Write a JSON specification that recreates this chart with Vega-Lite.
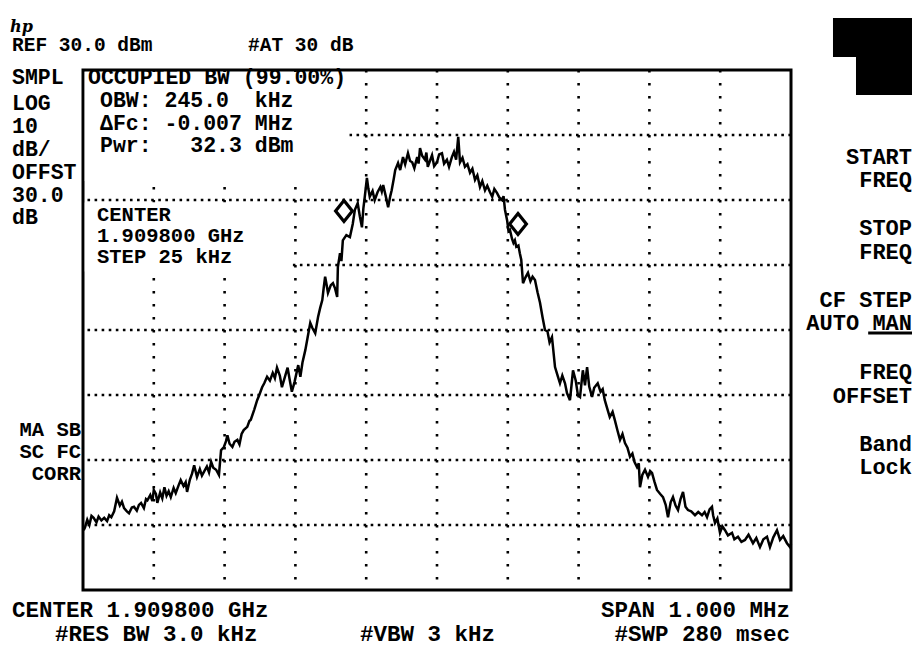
{
  "$schema": "https://vega.github.io/schema/vega-lite/v6.json",
  "width": 708,
  "height": 520,
  "autosize": {"type": "none"},
  "padding": {"left": 83, "top": 70, "right": 125, "bottom": 62},
  "background": "white",
  "config": {
    "view": {"stroke": "black", "strokeWidth": 3},
    "text": {"font": "Liberation Mono", "fontWeight": "bold", "fontSize": 21, "color": "black", "baseline": "middle"}
  },
  "datasets": {
    "vgrid": [{"x": -400}, {"x": -300}, {"x": -200}, {"x": -100}, {"x": 0}, {"x": 100}, {"x": 200}, {"x": 300}, {"x": 400}],
    "hgrid": [{"y": 20}, {"y": 10}, {"y": 0}, {"y": -10}, {"y": -20}, {"y": -30}, {"y": -40}],
    "masks": [
      {"x": -497.5, "x2": -124, "y": 29.7, "y2": 12.92},
      {"x": -497.5, "x2": -204, "y": 9.6, "y2": -1.0}
    ],
    "trace": [
      {"x": -499, "y": -40.8}, {"x": -497, "y": -40.3}, {"x": -494, "y": -39.2}, {"x": -491, "y": -40.0},
      {"x": -488, "y": -38.6}, {"x": -485, "y": -38.9}, {"x": -481, "y": -39.6}, {"x": -478, "y": -38.7},
      {"x": -474, "y": -39.3}, {"x": -470, "y": -38.9}, {"x": -466, "y": -39.4}, {"x": -463, "y": -38.5},
      {"x": -460, "y": -38.8}, {"x": -456, "y": -37.9}, {"x": -452, "y": -35.8}, {"x": -448, "y": -37.0},
      {"x": -445, "y": -36.4}, {"x": -442, "y": -37.4}, {"x": -438, "y": -37.9}, {"x": -435, "y": -38.2},
      {"x": -431, "y": -37.3}, {"x": -428, "y": -37.2}, {"x": -424, "y": -37.8}, {"x": -421, "y": -36.9},
      {"x": -418, "y": -36.6}, {"x": -414, "y": -37.4}, {"x": -411, "y": -36.0}, {"x": -409, "y": -36.2},
      {"x": -405, "y": -35.4}, {"x": -402, "y": -36.3}, {"x": -400, "y": -34.6}, {"x": -397, "y": -35.2},
      {"x": -395, "y": -36.6}, {"x": -391, "y": -35.0}, {"x": -388, "y": -35.9}, {"x": -385, "y": -34.2},
      {"x": -382, "y": -35.5}, {"x": -379, "y": -34.8}, {"x": -376, "y": -35.7}, {"x": -372, "y": -34.3},
      {"x": -369, "y": -35.1}, {"x": -365, "y": -33.9}, {"x": -362, "y": -33.1}, {"x": -358, "y": -34.0},
      {"x": -355, "y": -33.4}, {"x": -353, "y": -34.9}, {"x": -349, "y": -33.0}, {"x": -346, "y": -32.1},
      {"x": -343, "y": -30.8}, {"x": -339, "y": -32.6}, {"x": -335, "y": -31.4}, {"x": -332, "y": -32.4},
      {"x": -329, "y": -31.8}, {"x": -325, "y": -31.0}, {"x": -322, "y": -31.9}, {"x": -319, "y": -30.3},
      {"x": -316, "y": -31.2}, {"x": -312, "y": -31.5}, {"x": -308, "y": -32.3}, {"x": -305, "y": -28.5},
      {"x": -301, "y": -28.0}, {"x": -298, "y": -27.1}, {"x": -296, "y": -26.2}, {"x": -293, "y": -27.5},
      {"x": -289, "y": -28.0}, {"x": -286, "y": -27.2}, {"x": -282, "y": -26.9}, {"x": -279, "y": -27.6},
      {"x": -276, "y": -26.0}, {"x": -273, "y": -25.4}, {"x": -268, "y": -24.9}, {"x": -265, "y": -24.0},
      {"x": -263, "y": -23.8}, {"x": -258, "y": -22.2}, {"x": -254, "y": -20.8}, {"x": -251, "y": -20.0},
      {"x": -247, "y": -18.8}, {"x": -244, "y": -18.2}, {"x": -240, "y": -17.2}, {"x": -236, "y": -17.8},
      {"x": -232, "y": -16.6}, {"x": -229, "y": -17.4}, {"x": -226, "y": -15.8}, {"x": -222, "y": -17.0},
      {"x": -219, "y": -18.8}, {"x": -215, "y": -17.3}, {"x": -211, "y": -15.8}, {"x": -208, "y": -17.7},
      {"x": -205, "y": -19.5}, {"x": -201, "y": -17.9}, {"x": -196, "y": -15.4}, {"x": -193, "y": -17.2},
      {"x": -190, "y": -15.0}, {"x": -186, "y": -13.1}, {"x": -183, "y": -11.3}, {"x": -179, "y": -8.9},
      {"x": -176, "y": -9.7}, {"x": -172, "y": -10.5}, {"x": -168, "y": -8.0}, {"x": -165, "y": -6.6},
      {"x": -162, "y": -5.4}, {"x": -160, "y": -3.5}, {"x": -158, "y": -1.8}, {"x": -156, "y": -3.0},
      {"x": -154, "y": -4.3}, {"x": -150, "y": -3.1}, {"x": -147, "y": -2.8}, {"x": -144, "y": -3.6},
      {"x": -141, "y": -4.9}, {"x": -140, "y": -0.3}, {"x": -137, "y": 1.8}, {"x": -135, "y": 0.6},
      {"x": -133, "y": 3.8}, {"x": -128, "y": 4.6}, {"x": -123, "y": 4.3}, {"x": -119, "y": 6.3},
      {"x": -116, "y": 8.5}, {"x": -112, "y": 9.5}, {"x": -109, "y": 7.5}, {"x": -106, "y": 5.8},
      {"x": -104, "y": 8.7}, {"x": -102, "y": 10.5}, {"x": -99, "y": 13.4}, {"x": -97, "y": 11.8},
      {"x": -95, "y": 10.5}, {"x": -91, "y": 11.4}, {"x": -88, "y": 10.0}, {"x": -84, "y": 11.2},
      {"x": -80, "y": 12.0}, {"x": -78, "y": 11.3}, {"x": -76, "y": 12.3}, {"x": -72, "y": 10.4},
      {"x": -69, "y": 8.9}, {"x": -66, "y": 10.6}, {"x": -64, "y": 11.5}, {"x": -61, "y": 13.3},
      {"x": -59, "y": 14.6}, {"x": -55, "y": 15.7}, {"x": -52, "y": 14.6}, {"x": -48, "y": 16.6},
      {"x": -45, "y": 15.5}, {"x": -41, "y": 17.2}, {"x": -38, "y": 16.0}, {"x": -35, "y": 15.8},
      {"x": -32, "y": 14.9}, {"x": -28, "y": 16.6}, {"x": -26, "y": 15.6}, {"x": -24, "y": 18.0},
      {"x": -21, "y": 16.8}, {"x": -17, "y": 16.2}, {"x": -15, "y": 17.3}, {"x": -13, "y": 15.1},
      {"x": -10, "y": 16.0}, {"x": -7, "y": 16.9}, {"x": -4, "y": 15.2}, {"x": 0, "y": 15.8},
      {"x": 3, "y": 17.0}, {"x": 7, "y": 17.2}, {"x": 10, "y": 15.6}, {"x": 14, "y": 16.2},
      {"x": 17, "y": 15.1}, {"x": 21, "y": 16.6}, {"x": 24, "y": 17.4}, {"x": 27, "y": 16.2},
      {"x": 30, "y": 19.7}, {"x": 32.5, "y": 15.8}, {"x": 36, "y": 16.5}, {"x": 39.5, "y": 15.1},
      {"x": 43, "y": 15.5}, {"x": 46.6, "y": 14.2}, {"x": 50, "y": 14.8}, {"x": 53.7, "y": 13.1},
      {"x": 57, "y": 13.8}, {"x": 60.7, "y": 12.0}, {"x": 64, "y": 12.9}, {"x": 67.8, "y": 11.5},
      {"x": 71, "y": 12.2}, {"x": 74.9, "y": 11.2}, {"x": 78, "y": 10.5}, {"x": 81, "y": 11.7},
      {"x": 84.7, "y": 11.1}, {"x": 88, "y": 10.4}, {"x": 91.8, "y": 10.0}, {"x": 94, "y": 10.6},
      {"x": 96, "y": 8.5}, {"x": 99, "y": 6.9}, {"x": 101, "y": 5.2}, {"x": 103, "y": 5.4},
      {"x": 106, "y": 4.0}, {"x": 108, "y": 3.4}, {"x": 110, "y": 3.8}, {"x": 112, "y": 2.8},
      {"x": 115, "y": 3.0}, {"x": 117, "y": 1.8}, {"x": 119, "y": 0.8}, {"x": 121.5, "y": -2.8},
      {"x": 125, "y": -1.9}, {"x": 128.5, "y": -1.2}, {"x": 132, "y": -2.5}, {"x": 135, "y": -1.8},
      {"x": 138.4, "y": -2.3}, {"x": 142, "y": -4.2}, {"x": 145.5, "y": -5.8}, {"x": 149, "y": -8.0},
      {"x": 152.5, "y": -10.0}, {"x": 156, "y": -10.2}, {"x": 159, "y": -11.9}, {"x": 162.4, "y": -11.1},
      {"x": 166.7, "y": -15.7}, {"x": 170.9, "y": -17.2}, {"x": 173.7, "y": -18.2}, {"x": 177, "y": -17.0},
      {"x": 180.8, "y": -18.2}, {"x": 183.6, "y": -19.7}, {"x": 187.8, "y": -20.8}, {"x": 190, "y": -18.5},
      {"x": 192.1, "y": -16.2}, {"x": 196, "y": -17.8}, {"x": 199, "y": -20.0}, {"x": 202, "y": -20.3},
      {"x": 206, "y": -16.2}, {"x": 209, "y": -18.5}, {"x": 212, "y": -15.7}, {"x": 215, "y": -18.7},
      {"x": 219, "y": -20.3}, {"x": 222, "y": -18.9}, {"x": 227, "y": -18.2}, {"x": 231, "y": -19.5},
      {"x": 234, "y": -19.1}, {"x": 237, "y": -20.8}, {"x": 241, "y": -22.3}, {"x": 244, "y": -23.4},
      {"x": 248, "y": -22.6}, {"x": 251, "y": -23.8}, {"x": 255, "y": -25.5}, {"x": 258.5, "y": -26.9},
      {"x": 262, "y": -26.0}, {"x": 265.5, "y": -27.4}, {"x": 269, "y": -28.1}, {"x": 272.6, "y": -29.5},
      {"x": 276, "y": -29.0}, {"x": 279, "y": -30.3}, {"x": 282.5, "y": -31.1}, {"x": 285, "y": -30.5},
      {"x": 286.7, "y": -34.2}, {"x": 290, "y": -32.3}, {"x": 293.8, "y": -31.5}, {"x": 298, "y": -32.6},
      {"x": 301, "y": -31.7}, {"x": 303.7, "y": -32.0}, {"x": 307, "y": -33.3}, {"x": 310.7, "y": -34.6},
      {"x": 315, "y": -35.2}, {"x": 319.2, "y": -35.7}, {"x": 323, "y": -36.9}, {"x": 326.3, "y": -38.8},
      {"x": 330, "y": -36.5}, {"x": 333.3, "y": -35.7}, {"x": 337, "y": -37.0}, {"x": 340.4, "y": -37.7},
      {"x": 344, "y": -36.0}, {"x": 347.5, "y": -34.9}, {"x": 351, "y": -37.2}, {"x": 354.5, "y": -37.7},
      {"x": 359, "y": -37.9}, {"x": 364.4, "y": -38.5}, {"x": 369, "y": -38.0}, {"x": 374.3, "y": -38.5},
      {"x": 378, "y": -38.0}, {"x": 381.4, "y": -38.8}, {"x": 385, "y": -37.6}, {"x": 388.4, "y": -37.2},
      {"x": 390, "y": -38.5}, {"x": 392.7, "y": -39.7}, {"x": 396, "y": -39.0}, {"x": 399.7, "y": -41.2},
      {"x": 403, "y": -40.2}, {"x": 406.8, "y": -40.8}, {"x": 411, "y": -41.6}, {"x": 416.7, "y": -41.2},
      {"x": 420, "y": -42.2}, {"x": 425.1, "y": -41.8}, {"x": 430, "y": -42.6}, {"x": 435, "y": -42.3},
      {"x": 440, "y": -41.5}, {"x": 446.3, "y": -42.8}, {"x": 451, "y": -42.0}, {"x": 456.2, "y": -43.4},
      {"x": 461, "y": -42.2}, {"x": 466.1, "y": -41.8}, {"x": 470.3, "y": -43.4}, {"x": 475, "y": -41.9},
      {"x": 480.2, "y": -40.8}, {"x": 484.5, "y": -42.3}, {"x": 489, "y": -41.7}, {"x": 494.3, "y": -42.8},
      {"x": 498.6, "y": -43.4}, {"x": 500, "y": -42.9}
    ],
    "markers": [{"x": -131.4, "y": 8.3}, {"x": 114.4, "y": 6.3}],
    "topText": [
      {"t": "REF 30.0 dBm", "x": -600.3, "y": 33.85},
      {"t": "#AT 30 dB", "x": -266.9, "y": 33.85}
    ],
    "sideText": [
      {"t": "SMPL", "x": -600.3, "y": 28.77},
      {"t": "LOG", "x": -600.3, "y": 24.77},
      {"t": "10", "x": -600.3, "y": 21.23},
      {"t": "dB/", "x": -600.3, "y": 17.69},
      {"t": "OFFST", "x": -600.3, "y": 14.15},
      {"t": "30.0", "x": -600.3, "y": 10.62},
      {"t": "dB", "x": -600.3, "y": 7.23}
    ],
    "boxText": [
      {"t": "OCCUPIED BW (99.00%)", "x": -492.9, "y": 28.77},
      {"t": "OBW: 245.0\u00a0\u00a0kHz", "x": -476.0, "y": 25.23},
      {"t": "ΔFc: -0.007 MHz", "x": -476.0, "y": 21.69},
      {"t": "Pwr:\u00a0\u00a0\u00a032.3 dBm", "x": -476.0, "y": 18.31}
    ],
    "centerText": [
      {"t": "CENTER", "x": -480.2, "y": 7.69},
      {"t": "1.909800 GHz", "x": -480.2, "y": 4.46},
      {"t": "STEP 25 kHz", "x": -480.2, "y": 1.23}
    ],
    "bottomText": [
      {"t": "CENTER 1.909800 GHz", "x": -600.3, "y": -53.08},
      {"t": "#RES BW 3.0 kHz", "x": -539.5, "y": -56.77},
      {"t": "#VBW 3 kHz", "x": -108.8, "y": -56.77}
    ],
    "bottomRight": [
      {"t": "SPAN 1.000 MHz", "x": 498.6, "y": -53.08},
      {"t": "#SWP 280 msec", "x": 498.6, "y": -56.77}
    ],
    "maText": [
      {"t": "MA SB", "x": -502.8, "y": -25.38},
      {"t": "SC FC", "x": -502.8, "y": -28.77},
      {"t": "CORR", "x": -502.8, "y": -32.15}
    ],
    "rightText": [
      {"t": "START", "x": 670.9, "y": 16.62},
      {"t": "FREQ", "x": 670.9, "y": 13.08},
      {"t": "STOP", "x": 670.9, "y": 5.69},
      {"t": "FREQ", "x": 670.9, "y": 2.0},
      {"t": "CF STEP", "x": 670.9, "y": -5.38},
      {"t": "AUTO MAN", "x": 670.9, "y": -8.92},
      {"t": "FREQ", "x": 670.9, "y": -16.46},
      {"t": "OFFSET", "x": 670.9, "y": -20.15},
      {"t": "Band", "x": 670.9, "y": -27.54},
      {"t": "Lock", "x": 670.9, "y": -31.08}
    ],
    "blocks": [
      {"x": 559.3, "x2": 670.9, "y": 38.0, "y2": 32.0},
      {"x": 591.8, "x2": 670.9, "y": 32.0, "y2": 26.15}
    ],
    "underline": [{"x": 609.0, "x2": 670.9, "y": -10.46}],
    "logo": [{"t": "hp", "x": -603.1, "y": 36.6}]
  },
  "layer": [
    {
      "data": {"name": "vgrid"},
      "mark": {"type": "rule", "color": "black", "strokeWidth": 2.6, "strokeDash": [2.6, 10.4], "strokeCap": "butt"},
      "encoding": {
        "x": {"field": "x", "type": "quantitative", "scale": {"domain": [-500, 500], "nice": false, "zero": false}, "axis": null}
      }
    },
    {
      "data": {"name": "hgrid"},
      "mark": {"type": "rule", "color": "black", "strokeWidth": 2.6, "strokeDash": [2.6, 4.48], "strokeCap": "butt"},
      "encoding": {
        "y": {"field": "y", "type": "quantitative", "scale": {"domain": [-50, 30], "nice": false, "zero": false}, "axis": null}
      }
    },
    {
      "data": {"name": "masks"},
      "mark": {"type": "rect", "fill": "white", "strokeWidth": 0},
      "encoding": {
        "x": {"field": "x", "type": "quantitative", "scale": {"domain": [-500, 500], "nice": false, "zero": false}, "axis": null},
        "x2": {"field": "x2"},
        "y": {"field": "y", "type": "quantitative", "scale": {"domain": [-50, 30], "nice": false, "zero": false}, "axis": null},
        "y2": {"field": "y2"}
      }
    },
    {
      "data": {"name": "trace"},
      "mark": {"type": "line", "color": "black", "strokeWidth": 2.5, "strokeJoin": "miter"},
      "encoding": {
        "x": {"field": "x", "type": "quantitative", "scale": {"domain": [-500, 500], "nice": false, "zero": false}, "axis": null},
        "y": {"field": "y", "type": "quantitative", "scale": {"domain": [-50, 30], "nice": false, "zero": false}, "axis": null}
      }
    },
    {
      "data": {"name": "markers"},
      "mark": {"type": "point", "shape": "M0,-1L0.8,0L0,1L-0.8,0Z", "size": 440, "filled": true, "fill": "white", "stroke": "black", "strokeWidth": 3.2, "opacity": 1},
      "encoding": {
        "x": {"field": "x", "type": "quantitative", "scale": {"domain": [-500, 500], "nice": false, "zero": false}, "axis": null},
        "y": {"field": "y", "type": "quantitative", "scale": {"domain": [-50, 30], "nice": false, "zero": false}, "axis": null}
      }
    },
    {
      "data": {"name": "topText"},
      "mark": {"type": "text", "align": "left", "fontSize": 19.5},
      "encoding": {
        "x": {"field": "x", "type": "quantitative", "scale": {"domain": [-500, 500], "nice": false, "zero": false}, "axis": null},
        "y": {"field": "y", "type": "quantitative", "scale": {"domain": [-50, 30], "nice": false, "zero": false}, "axis": null},
        "text": {"field": "t"}
      }
    },
    {
      "data": {"name": "sideText"},
      "mark": {"type": "text", "align": "left", "fontSize": 21.5},
      "encoding": {
        "x": {"field": "x", "type": "quantitative", "scale": {"domain": [-500, 500], "nice": false, "zero": false}, "axis": null},
        "y": {"field": "y", "type": "quantitative", "scale": {"domain": [-50, 30], "nice": false, "zero": false}, "axis": null},
        "text": {"field": "t"}
      }
    },
    {
      "data": {"name": "boxText"},
      "mark": {"type": "text", "align": "left", "fontSize": 21.5},
      "encoding": {
        "x": {"field": "x", "type": "quantitative", "scale": {"domain": [-500, 500], "nice": false, "zero": false}, "axis": null},
        "y": {"field": "y", "type": "quantitative", "scale": {"domain": [-50, 30], "nice": false, "zero": false}, "axis": null},
        "text": {"field": "t"}
      }
    },
    {
      "data": {"name": "centerText"},
      "mark": {"type": "text", "align": "left", "fontSize": 20.5},
      "encoding": {
        "x": {"field": "x", "type": "quantitative", "scale": {"domain": [-500, 500], "nice": false, "zero": false}, "axis": null},
        "y": {"field": "y", "type": "quantitative", "scale": {"domain": [-50, 30], "nice": false, "zero": false}, "axis": null},
        "text": {"field": "t"}
      }
    },
    {
      "data": {"name": "bottomText"},
      "mark": {"type": "text", "align": "left", "fontSize": 22.5},
      "encoding": {
        "x": {"field": "x", "type": "quantitative", "scale": {"domain": [-500, 500], "nice": false, "zero": false}, "axis": null},
        "y": {"field": "y", "type": "quantitative", "scale": {"domain": [-50, 30], "nice": false, "zero": false}, "axis": null},
        "text": {"field": "t"}
      }
    },
    {
      "data": {"name": "bottomRight"},
      "mark": {"type": "text", "align": "right", "fontSize": 22.5},
      "encoding": {
        "x": {"field": "x", "type": "quantitative", "scale": {"domain": [-500, 500], "nice": false, "zero": false}, "axis": null},
        "y": {"field": "y", "type": "quantitative", "scale": {"domain": [-50, 30], "nice": false, "zero": false}, "axis": null},
        "text": {"field": "t"}
      }
    },
    {
      "data": {"name": "maText"},
      "mark": {"type": "text", "align": "right", "fontSize": 20.5},
      "encoding": {
        "x": {"field": "x", "type": "quantitative", "scale": {"domain": [-500, 500], "nice": false, "zero": false}, "axis": null},
        "y": {"field": "y", "type": "quantitative", "scale": {"domain": [-50, 30], "nice": false, "zero": false}, "axis": null},
        "text": {"field": "t"}
      }
    },
    {
      "data": {"name": "rightText"},
      "mark": {"type": "text", "align": "right", "fontSize": 22},
      "encoding": {
        "x": {"field": "x", "type": "quantitative", "scale": {"domain": [-500, 500], "nice": false, "zero": false}, "axis": null},
        "y": {"field": "y", "type": "quantitative", "scale": {"domain": [-50, 30], "nice": false, "zero": false}, "axis": null},
        "text": {"field": "t"}
      }
    },
    {
      "data": {"name": "blocks"},
      "mark": {"type": "rect", "fill": "black"},
      "encoding": {
        "x": {"field": "x", "type": "quantitative", "scale": {"domain": [-500, 500], "nice": false, "zero": false}, "axis": null},
        "x2": {"field": "x2"},
        "y": {"field": "y", "type": "quantitative", "scale": {"domain": [-50, 30], "nice": false, "zero": false}, "axis": null},
        "y2": {"field": "y2"}
      }
    },
    {
      "data": {"name": "underline"},
      "mark": {"type": "rule", "color": "black", "strokeWidth": 3},
      "encoding": {
        "x": {"field": "x", "type": "quantitative", "scale": {"domain": [-500, 500], "nice": false, "zero": false}, "axis": null},
        "x2": {"field": "x2"},
        "y": {"field": "y", "type": "quantitative", "scale": {"domain": [-50, 30], "nice": false, "zero": false}, "axis": null}
      }
    },
    {
      "data": {"name": "logo"},
      "mark": {"type": "text", "align": "left", "font": "DejaVu Serif", "fontStyle": "italic", "fontSize": 16},
      "encoding": {
        "x": {"field": "x", "type": "quantitative", "scale": {"domain": [-500, 500], "nice": false, "zero": false}, "axis": null},
        "y": {"field": "y", "type": "quantitative", "scale": {"domain": [-50, 30], "nice": false, "zero": false}, "axis": null},
        "text": {"field": "t"}
      }
    }
  ]
}
